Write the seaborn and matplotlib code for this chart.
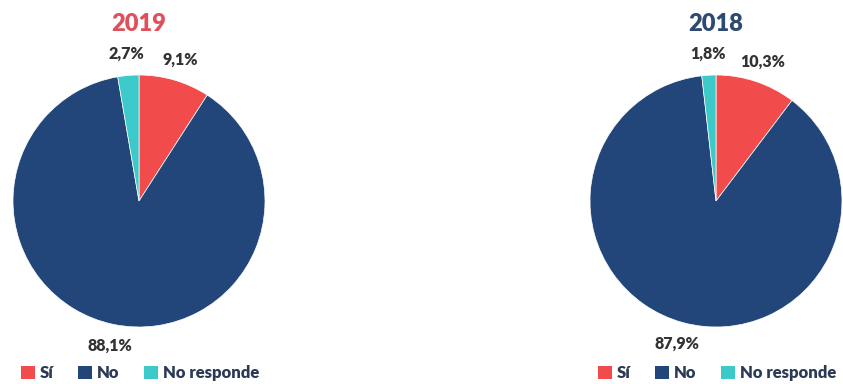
import matplotlib
matplotlib.use("Agg")
import matplotlib.pyplot as plt
from matplotlib.patches import Patch
import seaborn as sns

sns.set_theme(style="white")
plt.rcParams['font.family'] = ['Lato', 'DejaVu Sans']

categories = ["Sí", "No", "No responde"]
years = ["2019", "2018"]
values_2019 = [9.1, 88.1, 2.7]
values_2018 = [10.3, 87.9, 1.8]
colors = ["#F24B4B", "#22467A", "#3CC9C9"]
title_colors = ["#E0505A", "#2E4A6E"]
text_color = "#333333"

fig = plt.figure(figsize=(8.43, 3.84), dpi=100)
W, H = 843, 384

def fmt(v):
    return f"{v:.1f}%".replace(".", ",")

centers = [(139, 201), (716, 201)]
R = 126
for i, (vals, yr) in enumerate(zip([values_2019, values_2018], years)):
    cx, cy = centers[i]
    ax = fig.add_axes([(cx - R) / W, (H - cy - R) / H, 2 * R / W, 2 * R / H])
    wedges, texts, autotexts = ax.pie(
        vals, colors=colors, startangle=90, counterclock=False,
        autopct=lambda p: "", pctdistance=1.17,
        wedgeprops=dict(linewidth=0.5, edgecolor="white"))
    for at, v in zip(autotexts, vals):
        at.set_text(fmt(v))
        at.set_fontsize(11.5)
        at.set_fontweight("heavy")
        at.set_color(text_color)
    ax.set_xlim(-1, 1)
    ax.set_ylim(-1, 1)
    ax.set_aspect("equal")
    fig.text(cx / W, 1 - 24 / H, yr, ha="center", va="center",
             fontsize=17, fontweight="heavy", color=title_colors[i])
    handles = [Patch(facecolor=c, edgecolor="none", label=l) for c, l in zip(colors, categories)]
    fig.legend(handles=handles, loc="center", bbox_to_anchor=((cx + 1) / W, 1 - 373 / H),
               ncol=3, frameon=False, handlelength=0.8, handleheight=0.8,
               handletextpad=0.3, columnspacing=1.5,
               prop=dict(size=12, weight="heavy"), labelcolor="#2B3A55")

fig.savefig("out.png", dpi=100)
